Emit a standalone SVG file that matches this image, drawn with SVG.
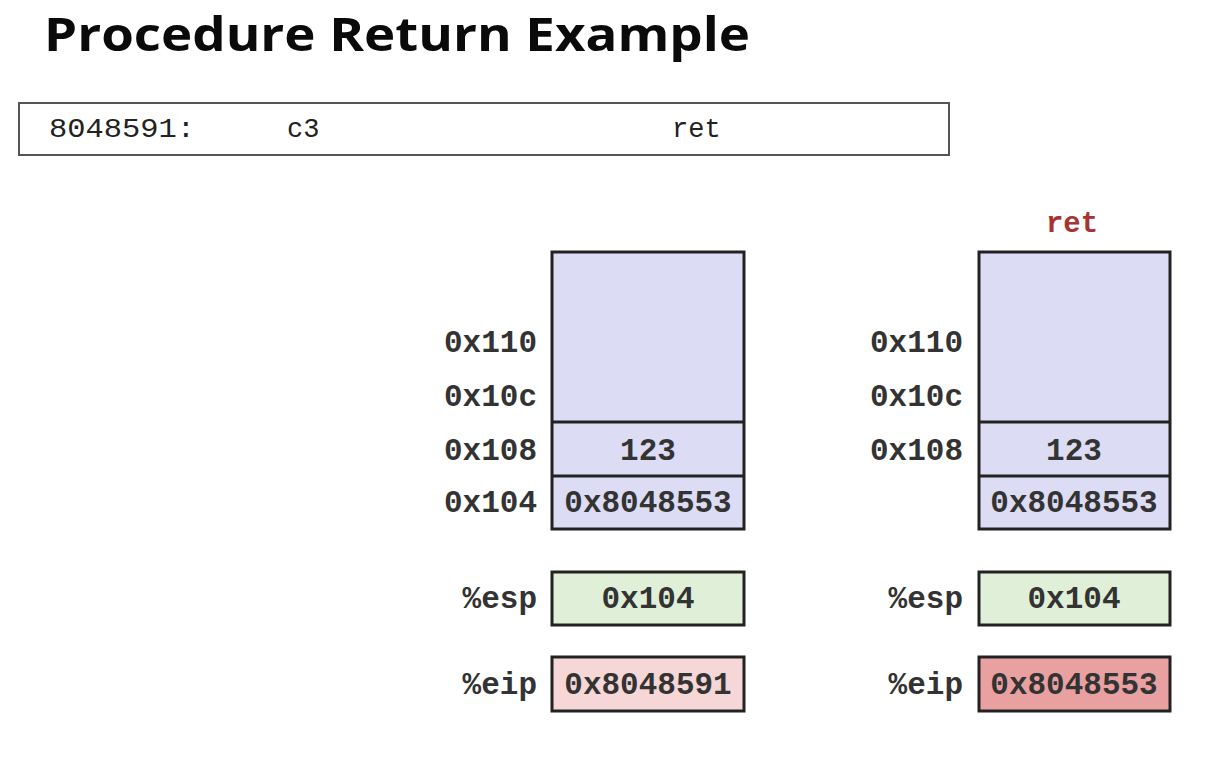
<svg xmlns="http://www.w3.org/2000/svg" width="1218" height="760" viewBox="0 0 1218 760">
<style>
.title{font-family:"Open Sans","Liberation Sans",sans-serif;font-weight:bold;font-size:47px;fill:#0a0a0a}
.mono{font-family:"Liberation Mono","DejaVu Sans Mono",monospace;font-weight:bold;font-size:31px;fill:#333}
.instr{font-family:"Liberation Mono","DejaVu Sans Mono",monospace;font-size:27px;fill:#222}
.lbl{text-anchor:end}
.ctr{text-anchor:middle}
.box{stroke:#222;stroke-width:3}
.stack{fill:#dcdcf4}
.esp{fill:#e0f0d8}
.eip1{fill:#f6d6d6}
.eip2{fill:#e8a0a0}
.red{font-family:"Liberation Mono","DejaVu Sans Mono",monospace;font-weight:bold;font-size:29px;fill:#a83232}
</style>
<rect width="1218" height="760" fill="#ffffff"/>
<text class="title" x="44" y="51" textLength="706" lengthAdjust="spacingAndGlyphs">Procedure Return Example</text>

<g id="instruction">
<rect x="19" y="103" width="930" height="52" fill="#fff" stroke="#555" stroke-width="2"/>
<text class="instr" x="49" y="137" textLength="146" lengthAdjust="spacingAndGlyphs">8048591:</text>
<text class="instr" x="287" y="137">c3</text>
<text class="instr" x="672" y="137">ret</text>
</g>

<g id="stack-before">
<rect class="box stack" x="552" y="252" width="192" height="277"/>
<line class="box" x1="552" y1="422" x2="744" y2="422"/>
<line class="box" x1="552" y1="476" x2="744" y2="476"/>
<text class="mono ctr" x="648" y="460">123</text>
<text class="mono ctr" x="648" y="512">0x8048553</text>
<text class="mono lbl" x="537" y="352">0x110</text>
<text class="mono lbl" x="537" y="406">0x10c</text>
<text class="mono lbl" x="537" y="460">0x108</text>
<text class="mono lbl" x="537" y="512">0x104</text>
</g>

<g id="esp-before">
<rect class="box esp" x="552" y="572" width="192" height="53"/>
<text class="mono ctr" x="648" y="608">0x104</text>
<text class="mono lbl" x="537" y="608">%esp</text>
</g>

<g id="eip-before">
<rect class="box eip1" x="552" y="657" width="192" height="54"/>
<text class="mono ctr" x="648" y="694">0x8048591</text>
<text class="mono lbl" x="537" y="694">%eip</text>
</g>

<g id="stack-after">
<text class="red ctr" x="1072" y="232">ret</text>
<rect class="box stack" x="979" y="252" width="191" height="277"/>
<line class="box" x1="979" y1="422" x2="1170" y2="422"/>
<line class="box" x1="979" y1="476" x2="1170" y2="476"/>
<text class="mono ctr" x="1074" y="460">123</text>
<text class="mono ctr" x="1074" y="512">0x8048553</text>
<text class="mono lbl" x="963" y="352">0x110</text>
<text class="mono lbl" x="963" y="406">0x10c</text>
<text class="mono lbl" x="963" y="460">0x108</text>
</g>

<g id="esp-after">
<rect class="box esp" x="979" y="572" width="191" height="53"/>
<text class="mono ctr" x="1074" y="608">0x104</text>
<text class="mono lbl" x="963" y="608">%esp</text>
</g>

<g id="eip-after">
<rect class="box eip2" x="979" y="657" width="191" height="54"/>
<text class="mono ctr" x="1074" y="694">0x8048553</text>
<text class="mono lbl" x="963" y="694">%eip</text>
</g>

<g id="connectors"></g>
</svg>
